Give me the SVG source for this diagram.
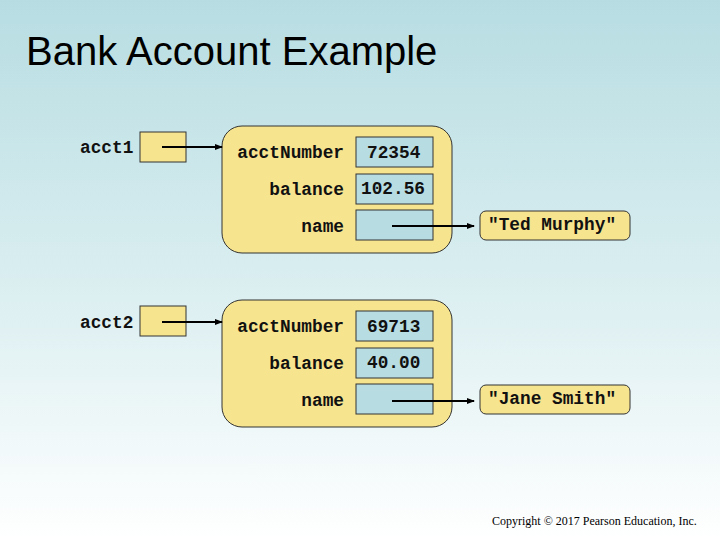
<svg xmlns="http://www.w3.org/2000/svg" width="720" height="540" viewBox="0 0 720 540">
<defs>
<linearGradient id="bg" x1="0" y1="0" x2="0" y2="1">
<stop offset="0" stop-color="#b7dde2"/>
<stop offset="0.55" stop-color="#dcefF1"/>
<stop offset="1" stop-color="#ffffff"/>
</linearGradient>
<marker id="arr" markerWidth="8" markerHeight="8" refX="7" refY="4" orient="auto" markerUnits="userSpaceOnUse">
<path d="M0,1 L8,4 L0,7 Z" fill="#000"/>
</marker>
<style>
.code{font-family:"Liberation Mono","Courier New",monospace;font-weight:bold;font-size:17.8px;fill:#111}
.lbl{text-anchor:end}
.obj{fill:#f7e48f;stroke:#333;stroke-width:1}
.ref{fill:#f7e48f;stroke:#333;stroke-width:1}
.val{fill:#b7dde3;stroke:#333;stroke-width:1}
.conn{stroke:#000;stroke-width:2;fill:none;marker-end:url(#arr)}
</style>
</defs>
<rect width="720" height="540" fill="url(#bg)"/>
<text x="26" y="65" font-family="Liberation Sans, Arial, sans-serif" font-size="40" fill="#000">Bank Account Example</text>

<g id="acct1">
<text class="code" x="80" y="153">acct1</text>
<rect class="ref" x="140" y="132" width="46" height="30"/>
</g>
<g id="account1">
<rect class="obj" x="222" y="126" width="230" height="127" rx="20"/>
<text class="code lbl" x="344" y="158">acctNumber</text>
<rect class="val" x="356" y="137" width="77" height="30"/>
<text class="code" x="367" y="158">72354</text>
<text class="code lbl" x="344" y="195">balance</text>
<rect class="val" x="356" y="174" width="77" height="30"/>
<text class="code" x="361" y="194">102.56</text>
<text class="code lbl" x="344" y="232">name</text>
<rect class="val" x="356" y="210" width="77" height="30"/>
</g>
<g id="ted">
<rect class="obj" x="480" y="211" width="150" height="29" rx="6"/>
<text class="code" x="488" y="230">"Ted Murphy"</text>
</g>

<g id="acct2">
<text class="code" x="80" y="328">acct2</text>
<rect class="ref" x="140" y="306" width="46" height="30"/>
</g>
<g id="account2">
<rect class="obj" x="222" y="300" width="230" height="127" rx="20"/>
<text class="code lbl" x="344" y="332">acctNumber</text>
<rect class="val" x="356" y="311" width="77" height="30"/>
<text class="code" x="367" y="332">69713</text>
<text class="code lbl" x="344" y="369">balance</text>
<rect class="val" x="356" y="348" width="77" height="30"/>
<text class="code" x="367" y="368">40.00</text>
<text class="code lbl" x="344" y="406">name</text>
<rect class="val" x="356" y="384" width="77" height="30"/>
</g>
<g id="jane">
<rect class="obj" x="480" y="385" width="150" height="29" rx="6"/>
<text class="code" x="488" y="404">"Jane Smith"</text>
</g>

<g id="connectors">
<line class="conn" x1="162" y1="147" x2="222" y2="147"/>
<line class="conn" x1="392" y1="226" x2="474" y2="226"/>
<line class="conn" x1="162" y1="322" x2="222" y2="322"/>
<line class="conn" x1="392" y1="401" x2="474" y2="401"/>
</g>

<text x="492" y="525" font-family="Liberation Serif, Times New Roman, serif" font-size="12" fill="#000">Copyright © 2017 Pearson Education, Inc.</text>
</svg>
